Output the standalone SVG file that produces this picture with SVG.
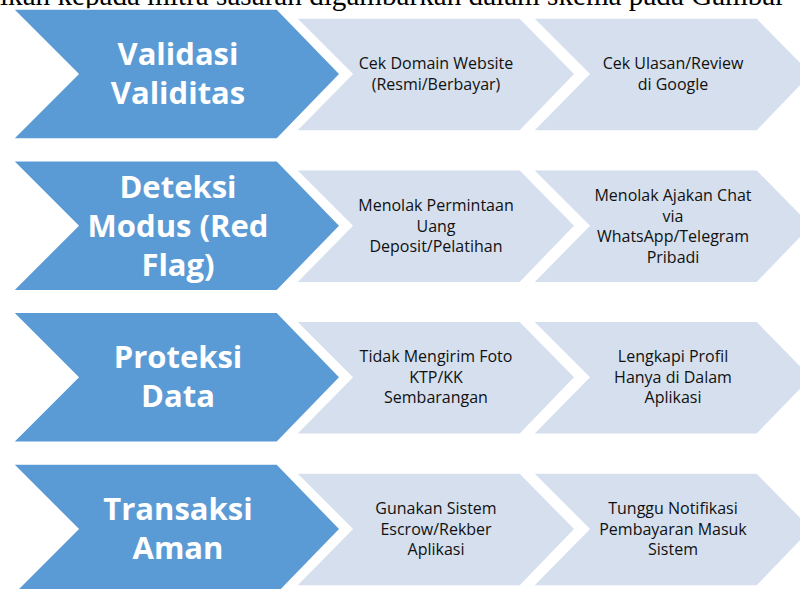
<svg xmlns="http://www.w3.org/2000/svg" width="800" height="589" viewBox="0 0 800 589">
<style>
.bg{fill:#ffffff}
.main{fill:#5B9BD5;stroke:#ffffff;stroke-width:1.5}
.sub{fill:#D5DFEE;stroke:#ffffff;stroke-width:1.5}
.mt{font-family:"Open Sans","DejaVu Sans",sans-serif;font-weight:700;font-size:31px;fill:#ffffff;text-anchor:middle}
.st{font-family:"Open Sans","DejaVu Sans",sans-serif;font-size:16px;fill:#111111;text-anchor:middle}
.cap{font-family:"Liberation Serif","Times New Roman",serif;font-size:29px;fill:#000000}
</style>
<defs>
<polygon id="bigChev" points="13,0 277,0 340,65 277,130 13,130 78,65"/>
<polygon id="smallChev" points="0,9 224,9 279,65 224,122 0,122 56,65"/>
</defs>
<rect class="bg" x="0" y="0" width="800" height="589"/>
<text class="cap" x="0" y="5" textLength="785" lengthAdjust="spacingAndGlyphs">ikan kepada mitra sasaran digambarkan dalam skema pada Gambar</text>

<g id="connectors"></g>

<g id="row1" transform="translate(0,9)">
<g id="node-validasi"><use href="#bigChev" class="main"/>
<text class="mt" x="178" y="56">Validasi</text><text class="mt" x="178" y="95">Validitas</text></g>
<g id="node-domain" transform="translate(296,0)"><use href="#smallChev" class="sub"/>
<text class="st" x="140" y="60">Cek Domain Website</text><text class="st" x="140" y="81">(Resmi/Berbayar)</text></g>
<g id="node-ulasan" transform="translate(533,0)"><use href="#smallChev" class="sub"/>
<text class="st" x="140" y="60">Cek Ulasan/Review</text><text class="st" x="140" y="81">di Google</text></g>
</g>

<g id="row2" transform="translate(0,160.7)">
<g id="node-deteksi"><use href="#bigChev" class="main"/>
<text class="mt" x="178" y="37">Deteksi</text><text class="mt" x="178" y="76">Modus (Red</text><text class="mt" x="178" y="115">Flag)</text></g>
<g id="node-deposit" transform="translate(296,0)"><use href="#smallChev" class="sub"/>
<text class="st" x="140" y="50">Menolak Permintaan</text><text class="st" x="140" y="71">Uang</text><text class="st" x="140" y="91">Deposit/Pelatihan</text></g>
<g id="node-chat" transform="translate(533,0)"><use href="#smallChev" class="sub"/>
<text class="st" x="140" y="40">Menolak Ajakan Chat</text><text class="st" x="140" y="61">via</text><text class="st" x="140" y="81">WhatsApp/Telegram</text><text class="st" x="140" y="102">Pribadi</text></g>
</g>

<g id="row3" transform="translate(0,312.3)">
<g id="node-proteksi"><use href="#bigChev" class="main"/>
<text class="mt" x="178" y="56">Proteksi</text><text class="mt" x="178" y="95">Data</text></g>
<g id="node-ktp" transform="translate(296,0)"><use href="#smallChev" class="sub"/>
<text class="st" x="140" y="50">Tidak Mengirim Foto</text><text class="st" x="140" y="71">KTP/KK</text><text class="st" x="140" y="91">Sembarangan</text></g>
<g id="node-profil" transform="translate(533,0)"><use href="#smallChev" class="sub"/>
<text class="st" x="140" y="50">Lengkapi Profil</text><text class="st" x="140" y="71">Hanya di Dalam</text><text class="st" x="140" y="91">Aplikasi</text></g>
</g>

<g id="row4" transform="translate(0,464)">
<g id="node-transaksi"><use href="#bigChev" class="main"/>
<text class="mt" x="178" y="56">Transaksi</text><text class="mt" x="178" y="95">Aman</text></g>
<g id="node-escrow" transform="translate(296,0)"><use href="#smallChev" class="sub"/>
<text class="st" x="140" y="50">Gunakan Sistem</text><text class="st" x="140" y="71">Escrow/Rekber</text><text class="st" x="140" y="91">Aplikasi</text></g>
<g id="node-notif" transform="translate(533,0)"><use href="#smallChev" class="sub"/>
<text class="st" x="140" y="50">Tunggu Notifikasi</text><text class="st" x="140" y="71">Pembayaran Masuk</text><text class="st" x="140" y="91">Sistem</text></g>
</g>
</svg>
